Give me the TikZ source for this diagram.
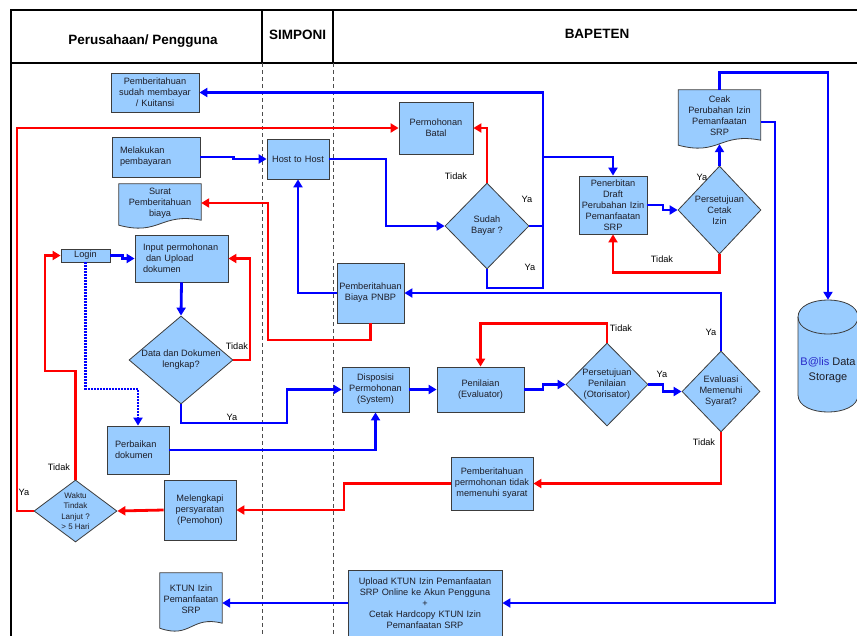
\documentclass[tikz,border=0pt]{standalone}
\usepackage{fontspec}
\setmainfont{Liberation Sans}
\usetikzlibrary{arrows.meta,shapes.geometric,calc,backgrounds}
\definecolor{boxfill}{RGB}{153,204,255}
\definecolor{boxborder}{RGB}{60,60,60}
\definecolor{blueline}{RGB}{0,0,255}
\definecolor{redline}{RGB}{255,0,0}
\definecolor{txt}{RGB}{30,30,40}
\definecolor{balisblue}{RGB}{40,40,200}
\newcommand\boxfont{\fontsize{9.2}{11}\selectfont}
\newcommand\smallboxfont{\fontsize{8}{10.5}\selectfont}
\newcommand\bigboxfont{\fontsize{11}{15}\selectfont}
\newcommand\hdrfont{\fontsize{13.5}{16}\selectfont\bfseries}
\newcommand\mydoc[1]{%
 \begin{pgfonlayer}{background}
 \filldraw[draw=boxborder, fill=boxfill, line width=0.8pt] (#1.north west) -- (#1.north east) -- ($(#1.south east)+(0,-2)$) .. controls ($(#1.south)+(0,-10)$) and ($(#1.south)+(0,14)$) .. ($(#1.south west)+(0,3)$) -- cycle;
 \end{pgfonlayer}}
\begin{document}
\begin{tikzpicture}[x=1pt,y=-1pt,
 box/.style={rectangle, draw=boxborder, fill=boxfill, line width=0.8pt, inner sep=0pt, align=center, font=\boxfont, text=txt},
 dia/.style={diamond, draw=boxborder, fill=boxfill, line width=0.8pt, inner sep=0pt, align=center, font=\boxfont, text=txt},
 docn/.style={rectangle, inner sep=0pt, align=center, font=\boxfont, text=txt},
 bl/.style={draw=blueline, line width=2.8pt},
 rd/.style={draw=redline, line width=2.8pt},
 dotline/.style={dash pattern=on 1.6pt off 1.4pt, line width=2.5pt},
 arrowend/.style={-{Triangle[length=8pt,width=9pt]}},
 lab/.style={font=\boxfont, inner sep=0pt, text=black},
 lane/.style={draw=black, line width=2.2pt},
 lanedash/.style={draw=black!70, line width=1pt, dash pattern=on 4pt off 3pt},
 hdr/.style={font=\hdrfont, inner sep=0pt}]
\useasboundingbox (0,0) rectangle (857,635);

% lanes
\draw[lane] (870,10) -- (11,10) -- (11,645);
\draw[lane] (11,63) -- (870,63);
\draw[lane] (262,10) -- (262,63);
\draw[lane] (333,10) -- (333,63);
\draw[lanedash] (262,63) -- (262,640);
\draw[lanedash] (333,63) -- (333,640);
\node[hdr] (h1) at (143,41) {Perusahaan/ Pengguna};
\node[hdr] (h2) at (297.5,35) {SIMPONI};
\node[hdr] (h3) at (597,34) {BAPETEN};

% nodes
\node[box, text width=88pt, minimum height=39pt] (pemsudah) at (155,92.5) {Pemberitahuan\\sudah membayar\\/ Kuitansi};
\node[box, text width=72pt, inner xsep=8pt, align=left, minimum height=40pt] (bayar) at (156,157) {Melakukan\\pembayaran};
\node[box, text width=62pt, minimum height=40pt] (host) at (298,159) {Host to Host};
\node[docn, text width=82pt, minimum height=38pt] (surat) at (160,203) {Surat\\Pemberitahuan\\biaya};
\node[box, text width=74pt, minimum height=52pt] (batal) at (436,128) {Permohonan\\Batal};
\node[dia, minimum width=84pt, minimum height=86pt] (sudah) at (487,226) {Sudah\\Bayar ?};
\node[box, text width=68pt, minimum height=58pt] (draft) at (613,205) {Penerbitan\\Draft\\Perubahan Izin\\Pemanfaatan\\SRP};
\node[dia, minimum width=83pt, minimum height=88pt] (cetak) at (719.5,210) {Persetujuan\\Cetak\\Izin};
\node[docn, text width=82pt, minimum height=52pt] (ceak) at (719.5,116) {Ceak\\Perubahan Izin\\Pemanfaatan\\SRP};
\node[inner sep=0pt, minimum width=60pt, minimum height=112pt] (balis) at (828,356) {};
\node[font=\bigboxfont, align=center, inner sep=0pt, text=txt] (balistxt) at (828,370) {\textcolor{balisblue}{B@lis} Data\\Storage};
\node[box, text width=49pt, minimum height=13pt] (login) at (85.5,255.5) {Login};
\node[box, text width=77pt, inner xsep=8pt, align=left, minimum height=47pt] (input) at (181.5,258.5) {Input permohonan\\\hspace*{3pt}dan Upload\\dokumen};
\node[dia, aspect=1.2, minimum width=104pt, minimum height=88pt] (data) at (181,360) {Data dan Dokumen\\lengkap?};
\node[box, text width=46pt, inner xsep=8pt, align=left, minimum height=48pt] (perbaikan) at (138,450) {Perbaikan\\dokumen};
\node[box, text width=67pt, minimum height=60pt] (pnbp) at (370.5,293) {Pemberitahuan\\Biaya PNBP};
\node[box, text width=67pt, minimum height=45pt] (dispo) at (375.5,389.5) {Disposisi\\Permohonan\\(System)};
\node[box, text width=87pt, minimum height=45pt] (nilai) at (480.5,389.5) {Penilaian\\(Evaluator)};
\node[dia, minimum width=82pt, minimum height=83pt] (otor) at (607,384.5) {Persetujuan\\Penilaian\\(Otorisator)};
\node[dia, minimum width=78pt, minimum height=81pt] (eval) at (721,391.5) {Evaluasi\\Memenuhi\\Syarat?};
\node[box, text width=82pt, minimum height=53pt] (tolak) at (492,483.5) {Pemberitahuan\\permohonan tidak\\memenuhi syarat};
\node[box, text width=72pt, minimum height=60pt] (lengkapi) at (200,510) {Melengkapi\\persyaratan\\(Pemohon)};
\node[dia, aspect=1.34, font=\smallboxfont, minimum width=83pt, minimum height=62pt] (waktu) at (75.5,511) {Waktu\\Tindak\\Lanjut ?\\> 5 Hari};
\node[docn, text width=62pt, minimum height=52pt] (ktun) at (191,599) {KTUN Izin\\Pemanfaatan\\SRP};
\node[box, text width=154pt, minimum height=66pt] (upload) at (425,603) {Upload KTUN Izin Pemanfaatan\\SRP Online ke Akun Pengguna\\+\\Cetak Hardcopy KTUN Izin\\Pemanfaatan SRP};

\mydoc{surat}
\mydoc{ceak}
\mydoc{ktun}
\begin{pgfonlayer}{background}
\filldraw[draw=boxborder, fill=boxfill, line width=0.8pt] (798,317) -- (798,395) .. controls (798,417.7) and (858,417.7) .. (858,395) -- (858,317) .. controls (858,294.3) and (798,294.3) .. (798,317) -- cycle;
\draw[draw=boxborder, line width=0.8pt] (798,317) .. controls (798,339.7) and (858,339.7) .. (858,317);
\end{pgfonlayer}

% labels
\node[lab] (t1) at (456,176) {Tidak};
\node[lab] (y1) at (527,199) {Ya};
\node[lab] (y2) at (530,267) {Ya};
\node[lab] (t2) at (237,346) {Tidak};
\node[lab] (y3) at (232,417) {Ya};
\node[lab] (t3) at (59,467) {Tidak};
\node[lab] (y4) at (24,492) {Ya};
\node[lab] (t4) at (662,259) {Tidak};
\node[lab] (y5) at (702,177) {Ya};
\node[lab] (t5) at (621,328) {Tidak};
\node[lab] (y6) at (662,374) {Ya};
\node[lab] (y7) at (711,332) {Ya};
\node[lab] (t6) at (704,442) {Tidak};

% connectors
\coordinate (ja) at (543,226);
\coordinate (jb) at (543,157);
\draw[bl,arrowend] (sudah.east) -- (ja) |- (pemsudah.east);
\draw[bl] (sudah.south) |- (543,288) -- (ja);
\draw[bl,arrowend] (jb) -| (draft.north);
\draw[bl,arrowend] (eval.north) |- (pnbp.east);
\draw[bl,arrowend] (pnbp.west) -| (host.south);
\draw[bl,arrowend] (bayar.east) -- ++(33,0) |- (host.west);
\draw[bl,arrowend] (host.east) -| (386,226) -- (sudah.west);
\draw[rd,arrowend] (waktu.west) -- (17,511) |- (batal.west);
\draw[rd,arrowend] (sudah.north) |- (batal.east);
\draw[rd,arrowend] (pnbp.south) |- (268,340) |- (surat.east);
\draw[bl,arrowend] (login.east) -- ++(12,0) |- (input.west);
\draw[bl,arrowend] (input.south) -- (data.north);
\draw[rd,arrowend] (data.east) -- (250,360) |- (input.east);
\draw[bl,arrowend] (data.south) |- (287,423) |- (dispo.west);
\draw[bl,dotline,arrowend] (login.south) |- (138,389) -- (perbaikan.north);
\draw[bl,arrowend] (perbaikan.east) -| (dispo.south);
\draw[bl,arrowend] (dispo.east) -- (nilai.west);
\draw[bl,arrowend] (nilai.east) -- (543,389.5) |- (otor.west);
\draw[rd,arrowend] (otor.north) -- ++(0,-19) -| (nilai.north);
\draw[bl,arrowend] (otor.east) -- (663,384.5) |- (eval.west);
\draw[rd,arrowend] (eval.south) |- (tolak.east);
\draw[rd,arrowend] (tolak.west) -| (344,510) -- (lengkapi.east);
\draw[rd,arrowend] (lengkapi.west) -- (waktu.east);
\draw[rd,arrowend] (waktu.north) |- (45,371) |- (login.west);
\draw[bl,arrowend] (draft.east) -- (663,205) |- (cetak.west);
\draw[bl,arrowend] (cetak.north) -- ($(ceak.south)+(0,2)$);
\draw[rd,arrowend] (cetak.south) -- ++(0,18) -| (draft.south);
\draw[bl,arrowend] (ceak.north) -- ++(0,-17) -| (balis.north);
\draw[bl,arrowend] ($(ceak.east)+(0,6)$) -- (775,122) |- (upload.east);
\draw[bl,arrowend] (upload.west) -- (upload.west -| ktun.east);
\end{tikzpicture}
\end{document}
